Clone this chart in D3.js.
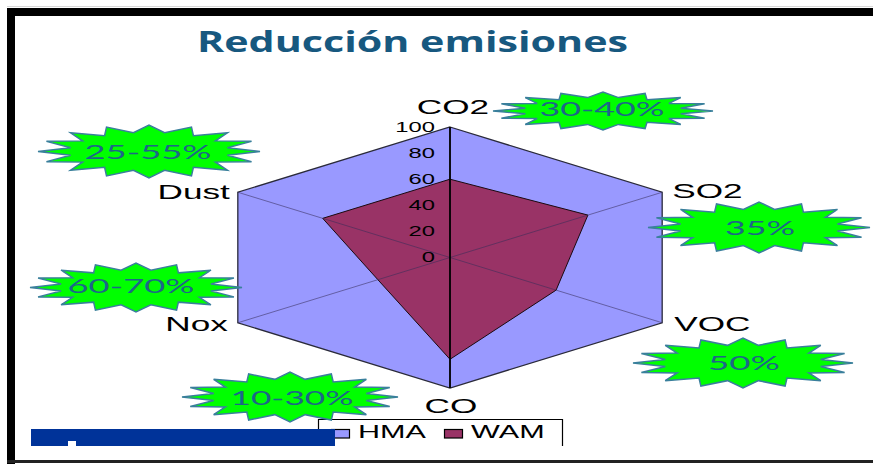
<!DOCTYPE html>
<html>
<head>
<meta charset="utf-8">
<script src="https://cdn.jsdelivr.net/npm/d3@7/dist/d3.min.js"></script>
<style>
  html, body { margin: 0; padding: 0; background: #ffffff; }
  svg { display: block; }
</style>
</head>
<body>
<svg id="chart" width="873" height="464"></svg>
<script>
// ---- data ----
const categories = ["CO2", "SO2", "VOC", "CO", "Nox", "Dust"];
const seriesNames = ["HMA", "WAM"];
const hmaValues = [100, 100, 100, 100, 100, 100];
const wamValues = [60, 65, 50, 78, 34, 60];
const tickValues = [0, 20, 40, 60, 80, 100];
const reductionLabels = ["30-40%", "35%", "50%", "10-30%", "60-70%", "25-55%"];
const titleText = "Reducción emisiones";

// ---- layout ----
const W = 873, H = 464;
const cx = 450, cy = 257.5, rx = 245, ry = 130.5;
const SX = 1.76; // horizontal stretch of chart lettering

const svg = d3.select("#chart");

const r = d3.scaleLinear().domain([0, 100]).range([0, 1]);
const angle = d3.scalePoint().domain(categories).range([0, 2 * Math.PI * (categories.length - 1) / categories.length]);
const color = d3.scaleOrdinal().domain(seriesNames).range(["#9999ff", "#993366"]);

function pt(cat, v) {
  const a = angle(cat), k = r(v);
  return [cx + rx * k * Math.sin(a), cy - ry * k * Math.cos(a)];
}

function stretchText(sel, x, y, txt, anchor, size, sx) {
  return sel.append("text")
    .attr("transform", `translate(${x},${y}) scale(${sx},1)`)
    .attr("text-anchor", anchor)
    .attr("font-family", "'Liberation Sans', Arial, sans-serif")
    .attr("font-size", size)
    .attr("fill", "#000")
    .text(txt);
}

// ---- frame ----
svg.append("rect").attr("x", 7).attr("y", 6).attr("width", W - 7).attr("height", 1).attr("fill", "#d8d8d8");
svg.append("rect").attr("x", 7).attr("y", 8).attr("width", W - 7).attr("height", 8).attr("fill", "#000");
svg.append("rect").attr("x", 7).attr("y", 8).attr("width", 8).attr("height", H - 8).attr("fill", "#000");
svg.append("rect").attr("x", 7).attr("y", 460).attr("width", W - 7).attr("height", 3).attr("fill", "#222");

// ---- title ----
svg.append("text")
  .attr("x", 197).attr("y", 52)
  .attr("font-family", "'Open Sans', sans-serif")
  .attr("font-weight", 700)
  .attr("font-size", 29)
  .attr("fill", "#17587f")
  .attr("textLength", 431)
  .attr("lengthAdjust", "spacingAndGlyphs")
  .text(titleText);

// ---- radar ----
const radar = svg.append("g");
const poly = d3.line().curve(d3.curveLinearClosed);

const series = [
  { name: "HMA", values: hmaValues },
  { name: "WAM", values: wamValues }
];

radar.selectAll("path.series")
  .data(series)
  .join("path")
  .attr("class", "series")
  .attr("d", s => poly(categories.map((c, i) => pt(c, s.values[i]))))
  .attr("fill", s => color(s.name))
  .attr("stroke", s => s.name === "HMA" ? "#2a2a3a" : "#1a0a10")
  .attr("stroke-width", s => s.name === "HMA" ? 1.3 : 1)
  .attr("stroke-linejoin", "miter");

// spokes
radar.selectAll("line.spoke")
  .data(categories)
  .join("line")
  .attr("class", "spoke")
  .attr("x1", cx).attr("y1", cy)
  .attr("x2", c => pt(c, 100)[0])
  .attr("y2", c => pt(c, 100)[1])
  .attr("stroke", "rgba(55,45,90,0.55)")
  .attr("stroke-width", 1);

// value axis
const axisTop = pt("CO2", 100), axisBottom = pt("CO", 100);
radar.append("line")
  .attr("x1", axisTop[0]).attr("y1", axisTop[1])
  .attr("x2", axisBottom[0]).attr("y2", axisBottom[1])
  .attr("stroke", "#000").attr("stroke-width", 1.8);

// tick labels
tickValues.forEach(t => {
  const p = pt("CO2", t);
  stretchText(radar, p[0] - 15, p[1] + 4.5, String(t), "end", 14, 1.7);
});

// category labels
const labelOffsets = [
  { dx: 3, dy: -13, anchor: "middle" },
  { dx: 10, dy: 6, anchor: "start" },
  { dx: 12, dy: 8, anchor: "start" },
  { dx: 1, dy: 25, anchor: "middle" },
  { dx: -10, dy: 8, anchor: "end" },
  { dx: -8, dy: 7, anchor: "end" }
];
categories.forEach((c, i) => {
  const p = pt(c, 100), o = labelOffsets[i];
  stretchText(radar, p[0] + o.dx, p[1] + o.dy, c, o.anchor, 20, SX);
});

// ---- legend ----
const legend = svg.append("g");
legend.append("rect").attr("x", 318).attr("y", 419).attr("width", 245).attr("height", 27).attr("fill", "#fff");
legend.append("path")
  .attr("d", "M318.5,446 V419.5 H562.5 V446")
  .attr("fill", "none").attr("stroke", "#000").attr("stroke-width", 1.2);

// footer bar
svg.append("rect").attr("x", 31).attr("y", 429).attr("width", 304).attr("height", 17).attr("fill", "#003399");
svg.append("rect").attr("x", 68).attr("y", 441).attr("width", 8).attr("height", 5).attr("fill", "#ffffff");

const legendX = [331, 444];
seriesNames.forEach((n, i) => {
  legend.append("rect")
    .attr("x", legendX[i] + 0.5).attr("y", 429.5)
    .attr("width", 18).attr("height", 8.5)
    .attr("fill", color(n)).attr("stroke", "#000").attr("stroke-width", 1.2);
  stretchText(legend, legendX[i] + 27, 437.5, n, "start", 18, 1.7);
});

// ---- reduction badges ----
const badgeLayout = [
  { x: 603, y: 111, rx: 110, ry: 19, tx: 602, ty: 116, tw: 125 },
  { x: 759, y: 227.5, rx: 111, ry: 25.5, tx: 760, ty: 235, tw: 70 },
  { x: 743, y: 363, rx: 110, ry: 25, tx: 744, ty: 370, tw: 72 },
  { x: 290, y: 397, rx: 108, ry: 25, tx: 292, ty: 405, tw: 123 },
  { x: 136, y: 287.5, rx: 106, ry: 24.5, tx: 131, ty: 293, tw: 127 },
  { x: 149, y: 151.5, rx: 111, ry: 26.5, tx: 148, ty: 159, tw: 127 }
];

function starPath(b) {
  const pts = [];
  const n = 16, inner = 0.72;
  for (let i = 0; i < n * 2; i++) {
    const a = i * Math.PI / n;
    const k = i % 2 === 0 ? 1 : inner;
    pts.push([b.x + b.rx * k * Math.cos(a), b.y - b.ry * k * Math.sin(a)]);
  }
  return poly(pts);
}

const badges = svg.append("g");
reductionLabels.forEach((lbl, i) => {
  const b = badgeLayout[i];
  badges.append("path")
    .attr("d", starPath(b))
    .attr("fill", "#00ff00")
    .attr("stroke", "#3a7f9c")
    .attr("stroke-width", 1.5)
    .attr("stroke-linejoin", "miter");
  badges.append("text")
    .attr("x", b.tx - b.tw / 2).attr("y", b.ty)
    .attr("font-family", "Lato, 'Open Sans', sans-serif")
    .attr("font-size", 20)
    .attr("fill", "#1d6688")
    .attr("textLength", b.tw)
    .attr("lengthAdjust", "spacingAndGlyphs")
    .text(lbl);
});
</script>
</body>
</html>
